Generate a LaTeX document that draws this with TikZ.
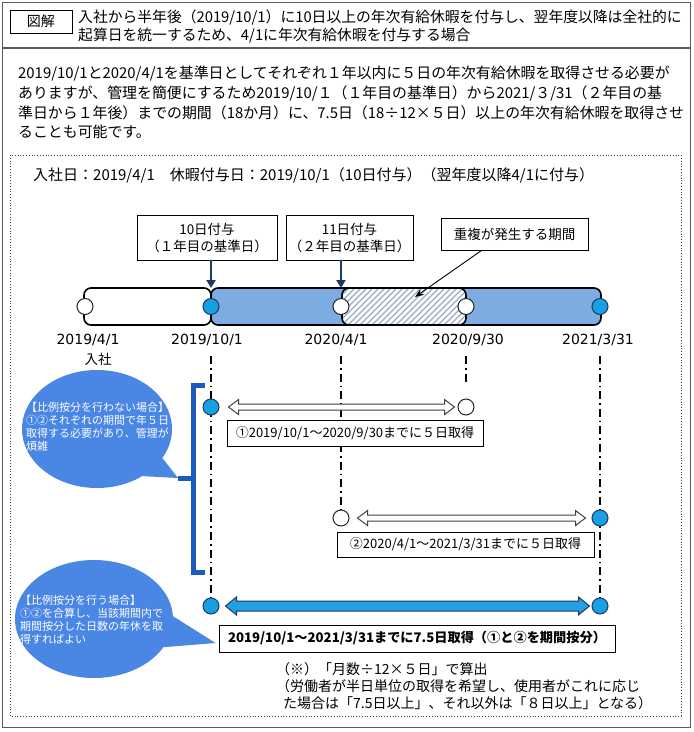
\documentclass[tikz,border=0pt]{standalone}
\usepackage{fontspec}
\setmainfont{Noto Sans CJK JP}
\newfontfamily\dvfont{DejaVu Sans}
\usetikzlibrary{shapes.geometric,arrows.meta,calc}
\definecolor{cobg}{RGB}{74,134,228}
\definecolor{brkc}{RGB}{28,90,190}
\definecolor{barblue}{RGB}{124,172,226}
\definecolor{dotcyan}{RGB}{20,160,225}
\definecolor{navy}{RGB}{31,56,100}
\definecolor{hatchc}{RGB}{150,170,200}
\definecolor{arrcyan}{RGB}{35,160,225}
\definecolor{framec}{RGB}{90,90,90}
\newcommand\DArr[6]{%
\draw[#1] let \p1=(#2), \p2=(#3) in (\p1) -- (\x1+#6,\y1+#5) -- (\x1+#6,\y1+#4) -- (\x2-#6,\y1+#4) -- (\x2-#6,\y1+#5) -- (\p2) -- (\x2-#6,\y1-#5) -- (\x2-#6,\y1-#4) -- (\x1+#6,\y1-#4) -- (\x1+#6,\y1-#5) -- cycle;}
\begin{document}
\begin{tikzpicture}[x=1pt,y=-1pt,
  t/.style={inner sep=0pt, anchor=west},
  big/.style={font=\fontsize{14.9}{19}\selectfont},
  bx/.style={draw=black, line width=0.9pt, fill=white, inner sep=0pt, align=center},
  wdot/.style={circle, draw=black!85, line width=1pt, fill=white, minimum size=16pt, inner sep=0pt},
  cdot/.style={circle, draw=navy, line width=1pt, fill=dotcyan, minimum size=16pt, inner sep=0pt},
  dd/.style={line width=1.4pt, dash pattern=on 8pt off 4pt on 1.6pt off 4pt},
  darr/.style={navy, line width=2.2pt, -{Triangle[length=8pt,width=9pt]}},
  seg/.style={draw=black, line width=1.6pt, rounded corners=7pt},
  co/.style={ellipse, fill=cobg, draw=none, inner sep=0pt},
  cot/.style={inner sep=0pt, anchor=north west, align=left, text=white, font=\fontsize{11}{13.2}\selectfont},
  brk/.style={draw=brkc, line width=5pt},
  harrow/.style={draw=black!75, line width=1pt, fill=white},
  farrow/.style={draw=navy, line width=1pt, fill=arrcyan},
  date/.style={inner sep=0pt, font=\dvfont\fontsize{14}{14}\selectfont}
]
\useasboundingbox (0,0) rectangle (694,732);
\fill[white] (0,0) rectangle (694,732);
% frames
\draw[framec, line width=1.2pt] (2.5,2.5) rectangle (690.5,727.5);
\draw[framec, line width=1.2pt] (2.5,48) -- (690.5,48);
\draw[black!75, line width=0.8pt, dotted] (10,155) rectangle (681,716);
% header
\node[draw=black, line width=1pt, minimum width=62pt, minimum height=23pt, inner sep=0pt, font=\fontsize{14}{14}\selectfont] (zk) at (41,21.5) {図解};
\node[t,font=\fontsize{14.8}{19}\selectfont] (h1) at (78,17) {入社から半年後（2019/10/1）に10日以上の年次有給休暇を付与し、翌年度以降は全社的に};
\node[t,font=\fontsize{14.8}{19}\selectfont] (h2) at (78,36) {起算日を統一するため、4/1に年次有給休暇を付与する場合};
% paragraph
\node[t,big] (p1) at (18,74) {2019/10/1と2020/4/1を基準日としてそれぞれ１年以内に５日の年次有給休暇を取得させる必要が};
\node[t,big] (p2) at (18,93) {ありますが、管理を簡便にするため2019/10/１（１年目の基準日）から2021/３/31（２年目の基};
\node[t,big] (p3) at (18,112.5) {準日から１年後）までの期間（18か月）に、7.5日（18÷12×５日）以上の年次有給休暇を取得させ};
\node[t,big] (p4) at (18,132) {ることも可能です。};
% info line
\node[t,font=\fontsize{15}{19}\selectfont] (i1) at (33,175) {入社日：2019/4/1　休暇付与日：2019/10/1（10日付与）（翌年度以降4/1に付与）};
% top boxes
\node[bx, minimum width=140pt, minimum height=45pt, font=\fontsize{13.5}{17}\selectfont] (b1) at (207,237.5) {10日付与\\（１年目の基準日）};
\node[bx, minimum width=127pt, minimum height=45pt, font=\fontsize{13.5}{17}\selectfont] (b2) at (349.5,237.5) {11日付与\\（２年目の基準日）};
\node[bx, minimum width=147pt, minimum height=32pt, font=\fontsize{13.5}{17}\selectfont] (b3) at (514.5,234) {重複が発生する期間};
% bar
\draw[seg, fill=barblue] (211,288) rectangle (601,325);
\draw[seg, fill=white] (84,288) rectangle (211,325);
\begin{scope}
\clip[rounded corners=7pt] (342,288) rectangle (466,325);
\fill[white] (342,288) rectangle (466,325);
\foreach \i in {300,306,...,470} \draw[hatchc, line width=1.1pt] (\i,325) -- (\i+37,288);
\end{scope}
\draw[seg] (342,288) rectangle (466,325);
\coordinate (bt) at (0,288);
% bar circles
\node[wdot] (c1) at (85,306.5) {};
\node[cdot] (c2) at (211,306.5) {};
\node[wdot] (c3) at (341,306.5) {};
\node[wdot] (c4) at (466,306.5) {};
\node[cdot] (c5) at (600,306.5) {};
% arrows into bar
\draw[darr] (b1.south -| c2) -- (bt -| c2);
\draw[darr] (b2.south -| c3) -- (bt -| c3);
\coordinate (hp) at (415,297);
\draw[line width=0.9pt, -{Stealth[length=9pt,width=7pt]}] ($(b3.south)+(-33,0)$) -- (hp);
% date labels
\node[date] (d1) at (88,340) {2019/4/1};
\node[date] (d2) at (207,340) {2019/10/1};
\node[date] (d3) at (336,340) {2020/4/1};
\node[date] (d4) at (468,340) {2020/9/30};
\node[date] (d5) at (598,340) {2021/3/31};
\node[inner sep=0pt, font=\fontsize{13.5}{14}\selectfont] (n1) at (98,359) {入社};
% row circles (positions)
\coordinate (vt) at (0,356);
\path (211,407) coordinate (p_r1a) (466,407) coordinate (p_r1b) (341,518) coordinate (p_r2a) (600,518) coordinate (p_r2b) (211,606) coordinate (p_r3a) (600,606) coordinate (p_r3b);
% vertical dash-dot lines
\draw[dd] (vt -| c2) -- ($(p_r3a)+(0,-8)$);
\draw[dd] (vt -| c3) -- ($(p_r2a)+(0,-8)$);
\draw[dd] (vt -| c4) -- ++(0,26);
\draw[dd] (vt -| c5) -- ($(p_r3b)+(0,-8)$);
% row circles
\node[cdot] (r1a) at (p_r1a) {};
\node[wdot] (r1b) at (p_r1b) {};
\node[wdot] (r2a) at (p_r2a) {};
\node[cdot] (r2b) at (p_r2b) {};
\node[cdot] (r3a) at (p_r3a) {};
\node[cdot] (r3b) at (p_r3b) {};
% double arrows
\coordinate (a1L) at ($(r1a.east)+(9,0)$);
\coordinate (a1R) at ($(r1b.west)+(-3,0)$);
\coordinate (a2L) at ($(r2a.east)+(8,0)$);
\coordinate (a2R) at ($(r2b.west)+(-6,0)$);
\coordinate (a3L) at ($(r3a.east)+(6,0)$);
\coordinate (a3R) at ($(r3b.west)+(-2,0)$);
\DArr{harrow}{a1L}{a1R}{3pt}{7.5pt}{10pt}
\DArr{harrow}{a2L}{a2R}{3pt}{7.5pt}{10pt}
\DArr{farrow}{a3L}{a3R}{5pt}{9pt}{11pt}
% row boxes
\node[bx, minimum width=256pt, minimum height=26pt, font=\fontsize{13}{15}\selectfont] (rb1) at (355,433) {①2019/10/1～2020/9/30までに５日取得};
\node[bx, minimum width=257pt, minimum height=25pt, font=\fontsize{13}{15}\selectfont] (rb2) at (465.5,544.5) {②2020/4/1～2021/3/31までに５日取得};
\node[bx, minimum width=396pt, minimum height=27pt, font=\bfseries\fontsize{13.2}{15}\selectfont] (rb3) at (417,638.5) {2019/10/1～2021/3/31までに7.5日取得（①と②を期間按分）};
% bracket and callout 1
\coordinate (brkT) at (178,478);
\node[co, minimum width=150pt, minimum height=118pt] (co1) at (97,429) {};
\fill[cobg] (co1.-24) -- (brkT) -- (co1.-46) -- cycle;
\draw[brk] (205,385) -- (193,385) -- (193,572) -- (205,572);
\draw[brk] (193,478) -- (brkT);
\node[cot] (cot1) at (26,401.5) {【比例按分を行わない場合】\\①②それぞれの期間で年５日\\取得する必要があり、管理が\\煩雑};
% callout 2
\coordinate (tip2) at ($(rb3.west)+(-3,4.5)$);
\node[co, minimum width=158pt, minimum height=118pt] (co2) at (94,619) {};
\fill[cobg] (co2.2) -- (tip2) -- (co2.-22) -- cycle;
\node[cot] (cot2) at (20,594.5) {【比例按分を行う場合】\\①②を合算し、当該期間内で\\期間按分した日数の年休を取\\得すればよい};
% notes
\node[t, font=\fontsize{14}{16}\selectfont] (nt1) at (276,669) {（※）「月数÷12×５日」で算出};
\node[t, font=\fontsize{14}{16}\selectfont] (nt2) at (276,686) {（労働者が半日単位の取得を希望し、使用者がこれに応じ};
\node[t, font=\fontsize{14}{16}\selectfont] (nt3) at (283,703) {た場合は「7.5日以上」、それ以外は「８日以上」となる）};
\end{tikzpicture}
\end{document}
